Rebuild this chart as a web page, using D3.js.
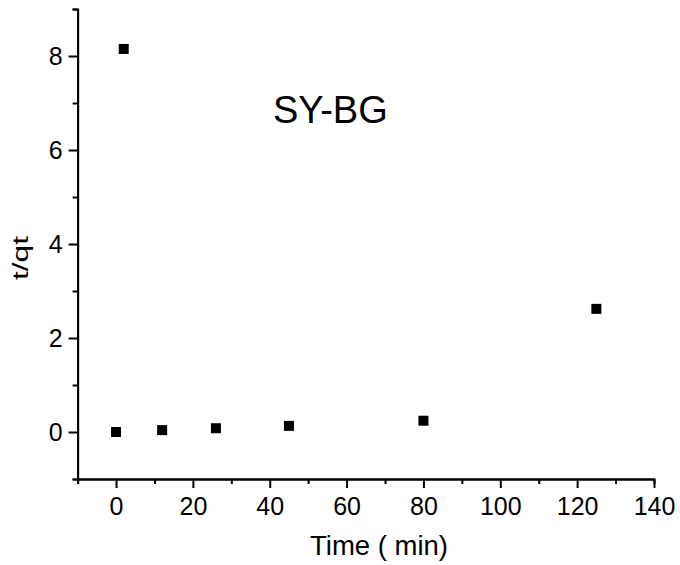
<!DOCTYPE html>
<html>
<head>
<meta charset="utf-8">
<script src="https://cdn.jsdelivr.net/npm/d3@7"></script>
<style>
  html, body { margin: 0; padding: 0; background: #fff; }
  svg { display: block; font-family: "Liberation Sans", Arial, sans-serif; }
</style>
</head>
<body>
<svg id="chart" width="680" height="565"></svg>
<script>
// Data
const timeMin = [0, 2, 12, 26, 45, 80, 125];
const tqt     = [0.0, 8.15, 0.04, 0.08, 0.13, 0.24, 2.62];
const xMajorTicks = [0, 20, 40, 60, 80, 100, 120, 140];
const xMinorTicks = [-10, 10, 30, 50, 70, 90, 110, 130];
const yMajorTicks = [0, 2, 4, 6, 8];
const yMinorTicks = [-1, 1, 3, 5, 7, 9];
const chartLabel = "SY-BG";
const xTitle = "Time ( min)";
const yTitle = "t/qt";

const svg = d3.select("#chart");
const x = d3.scaleLinear().domain([-10, 140]).range([77.6, 654]);
const y = d3.scaleLinear().domain([-1, 9]).range([479, 9]);

function styleAxis(g) {
  g.select(".domain").attr("stroke", "#000").attr("stroke-width", 2);
  g.selectAll(".tick line").attr("stroke", "#000").attr("stroke-width", 2);
}

// minor ticks
svg.append("g").attr("transform", `translate(0,${y(-1)})`)
  .call(d3.axisBottom(x).tickValues(xMinorTicks).tickSize(5).tickFormat(""))
  .call(styleAxis);
svg.append("g").attr("transform", `translate(${x(-10)},0)`)
  .call(d3.axisLeft(y).tickValues(yMinorTicks).tickSize(5).tickFormat(""))
  .call(styleAxis);

// major ticks
const gx = svg.append("g").attr("transform", `translate(0,${y(-1)})`)
  .call(d3.axisBottom(x).tickValues(xMajorTicks).tickSize(9).tickPadding(9).tickSizeOuter(0))
  .call(styleAxis);
gx.selectAll(".tick text").attr("font-size", 25).attr("fill", "#000")
  .attr("font-family", "Liberation Sans, Arial, sans-serif");

const gy = svg.append("g").attr("transform", `translate(${x(-10)},0)`)
  .call(d3.axisLeft(y).tickValues(yMajorTicks).tickSize(9).tickPadding(6).tickSizeOuter(0))
  .call(styleAxis);
gy.selectAll(".tick text").attr("font-size", 25).attr("fill", "#000")
  .attr("font-family", "Liberation Sans, Arial, sans-serif");

// points
const sz = 10;
svg.append("g").selectAll("rect")
  .data(timeMin.map((t, i) => ({ t, v: tqt[i] })))
  .join("rect")
  .attr("x", d => x(d.t) - sz / 2)
  .attr("y", d => y(d.v) - sz / 2)
  .attr("width", sz).attr("height", sz)
  .attr("fill", "#000");

// label
svg.append("text").attr("x", 273).attr("y", 123)
  .attr("font-size", 38).attr("fill", "#000").text(chartLabel);

// axis titles
svg.append("text").attr("x", 379).attr("y", 555)
  .attr("text-anchor", "middle").attr("font-size", 27.5).attr("fill", "#000").text(xTitle);
svg.append("text")
  .attr("transform", `translate(28,258) rotate(-90)`)
  .attr("text-anchor", "middle").attr("font-size", 22)
  .attr("textLength", 44).attr("lengthAdjust", "spacingAndGlyphs")
  .attr("fill", "#000").text(yTitle);
</script>
</body>
</html>
